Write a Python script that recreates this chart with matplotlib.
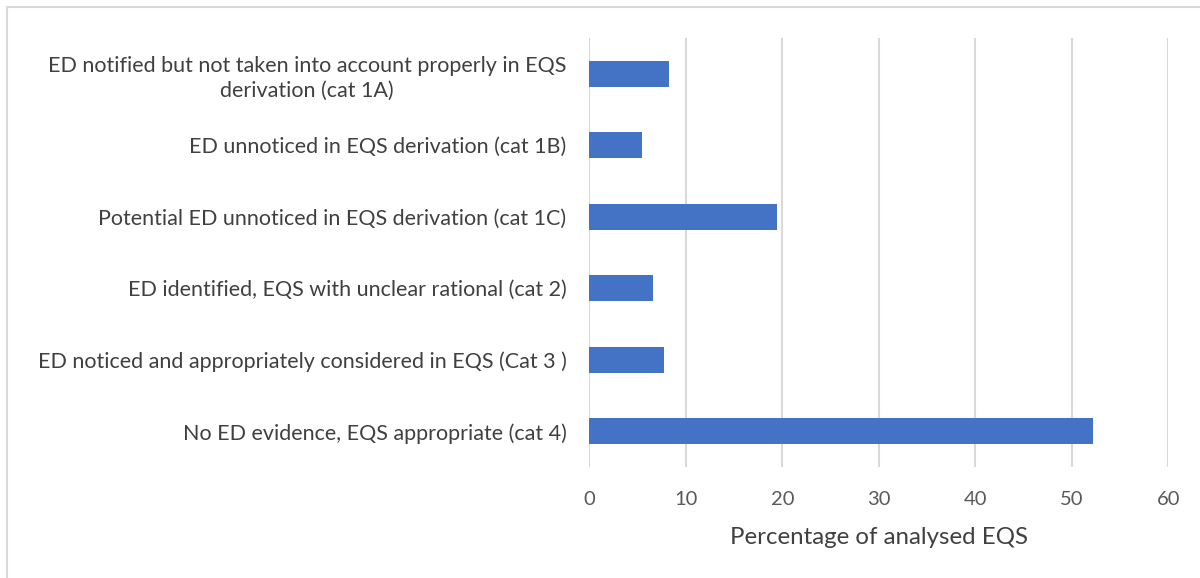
import matplotlib
matplotlib.use("Agg")
import matplotlib.pyplot as plt
from matplotlib.patches import Rectangle

categories = [
    "ED notified but not taken into account properly in EQS\nderivation (cat 1A)",
    "ED unnoticed in EQS derivation (cat 1B)",
    "Potential ED unnoticed in EQS derivation (cat 1C)",
    "ED identified, EQS with unclear rational (cat 2)",
    "ED noticed and appropriately considered in EQS (Cat 3 )",
    "No ED evidence, EQS appropriate (cat 4)",
]
values = [8.3, 5.5, 19.4, 6.6, 7.7, 52.2]
xticks = [0, 10, 20, 30, 40, 50, 60]
xlabel = "Percentage of analysed EQS"

plt.rcParams['font.family'] = ['Lato', 'DejaVu Sans']
W, H = 1200, 578
fig = plt.figure(figsize=(W / 100, H / 100), dpi=100)
ax = fig.add_axes([589.3 / W, 1 - 467 / H, (1168.3 - 589.3) / W, (467 - 38) / H])

ypos = list(range(len(categories)))
ax.barh(ypos, values, height=0.36, color="#4472C4", zorder=3)
ax.set_ylim(len(categories) - 0.5, -0.5)
ax.set_xlim(0, 60)
ax.set_xticks(xticks)
ax.set_xticklabels([str(t) for t in xticks], fontsize=14.5, color="#595959")
ax.set_yticks(ypos)
ax.set_yticklabels(categories, fontsize=15.5, color="#404040")
for lbl in ax.get_yticklabels():
    lbl.set_multialignment("center")
    lbl.set_linespacing(1.35)
ax.tick_params(axis="y", length=0, pad=16.5)
ax.tick_params(axis="x", length=0, pad=17)
ax.grid(axis="x", color="#d9d9d9", linewidth=1.5, zorder=0)
for s in ax.spines.values():
    s.set_visible(False)
ax.set_xlabel(xlabel, fontsize=17.3, color="#404040", labelpad=14)

fig.patches.append(Rectangle((7 / W, -0.1), 1.2, 1 - 7 / H + 0.1, transform=fig.transFigure,
                             fill=False, edgecolor="#d9d9d9", linewidth=1.5))
fig.savefig("out.png", dpi=100)
